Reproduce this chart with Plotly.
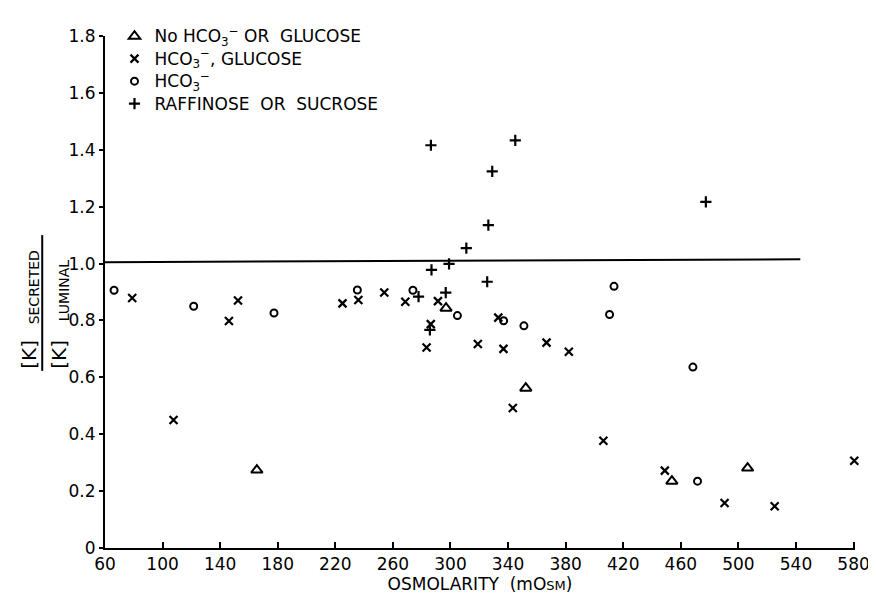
import plotly.graph_objects as go

# ---- data ----
tri_x = [165.5, 296.9, 352.3, 453.8, 506.4]
tri_y = [0.274, 0.843, 0.562, 0.235, 0.281]

xg_x = [78.9, 107.6, 146.1, 152.4, 225.0, 236.0, 254.0, 268.6, 291.3, 286.3, 283.4,
        319.0, 333.2, 336.8, 343.3, 366.7, 382.2, 406.2, 448.9, 490.4, 525.2, 580.5]
xg_y = [0.879, 0.450, 0.798, 0.870, 0.860, 0.872, 0.898, 0.866, 0.868, 0.787, 0.705,
        0.717, 0.810, 0.700, 0.492, 0.722, 0.690, 0.377, 0.272, 0.158, 0.147, 0.307]

circ_x = [66.3, 121.6, 177.4, 235.3, 273.9, 304.8, 336.9, 351.0, 410.5, 413.6, 468.4, 471.6]
circ_y = [0.906, 0.850, 0.826, 0.907, 0.906, 0.817, 0.799, 0.781, 0.821, 0.920, 0.636, 0.235]

plus_x = [286.4, 345.0, 329.0, 326.3, 477.4, 311.0, 286.8, 299.0, 325.5, 277.8, 296.7, 285.7]
plus_y = [1.416, 1.433, 1.324, 1.135, 1.217, 1.054, 0.978, 0.999, 0.936, 0.884, 0.898, 0.767]

ref_x = [60, 543]
ref_y = [1.005, 1.015]

x_ticks = list(range(60, 581, 40))
y_ticks = [0, 0.2, 0.4, 0.6, 0.8, 1.0, 1.2, 1.4, 1.6, 1.8]
y_tick_text = ["0", "0.2", "0.4", "0.6", "0.8", "1.0", "1.2", "1.4", "1.6", "1.8"]

big = "<span style='font-size:17px'>{}</span>"
names = [big.format("No HCO<sub>3</sub><sup>−</sup> OR  GLUCOSE"),
         big.format("HCO<sub>3</sub><sup>−</sup>, GLUCOSE"),
         big.format("HCO<sub>3</sub><sup>−</sup>"),
         big.format("RAFFINOSE  OR  SUCROSE")]

FONT = "DejaVu Sans"
OFF = 8  # page body margin of the browser
X_MAX = 581
W, H = 876 - OFF, 598 - OFF
L, R, T, B = 104.5 - OFF, 21.3, 24 - OFF, 49.5
PW, PH = W - L - R, H - T - B


def px(xp):
    # screen pixel -> paper coordinate
    return (xp - OFF - L) / PW


def py(yp):
    return (H - B - (yp - OFF)) / PH


fig = go.Figure()
fig.add_trace(go.Scatter(x=ref_x, y=ref_y, mode="lines",
                         line=dict(color="black", width=2), showlegend=False,
                         hoverinfo="skip"))
mk = dict(color="black")
fig.add_trace(go.Scatter(x=tri_x, y=tri_y, mode="markers", name=names[0],
                         marker=dict(symbol="triangle-up-open", size=10,
                                     line=dict(color="black", width=2), **mk)))
fig.add_trace(go.Scatter(x=xg_x, y=xg_y, mode="markers", name=names[1],
                         marker=dict(symbol="x-thin", size=8,
                                     line=dict(color="black", width=2.2), **mk)))
fig.add_trace(go.Scatter(x=circ_x, y=circ_y, mode="markers", name=names[2],
                         marker=dict(symbol="circle-open", size=7,
                                     line=dict(color="black", width=2), **mk)))
fig.add_trace(go.Scatter(x=plus_x, y=plus_y, mode="markers", name=names[3],
                         marker=dict(symbol="cross-thin", size=8,
                                     line=dict(color="black", width=2.2), **mk)))
for tr in fig.data:
    tr.cliponaxis = False

annotations = [
    dict(text="[K]", x=px(29), y=py(350), font=dict(size=20)),
    dict(text="SECRETED", x=px(33), y=py(282), font=dict(size=14)),
    dict(text="[K]", x=px(59), y=py(350), font=dict(size=20)),
    dict(text="LUMINAL", x=px(63), y=py(285), font=dict(size=14)),
]
for a in annotations:
    a.update(xref="paper", yref="paper", showarrow=False, textangle=-90,
             xanchor="center", yanchor="middle")
    a["font"].update(family=FONT, color="black")

fig.update_layout(
    width=W, height=H,
    margin=dict(l=L, r=R, t=T, b=B, pad=0),
    plot_bgcolor="white", paper_bgcolor="white",
    font=dict(family=FONT, color="black", size=17),
    annotations=annotations,
    shapes=[dict(type="line", xref="paper", yref="paper",
                 x0=px(41.7), x1=px(41.7), y0=py(228), y1=py(367),
                 line=dict(color="black", width=2))],
    legend=dict(x=px(114), y=py(7.5), xanchor="left", yanchor="top",
                bgcolor="rgba(0,0,0,0)", font=dict(family=FONT, size=15),
                itemwidth=30, tracegroupgap=0),
    xaxis=dict(range=[60, X_MAX], tickvals=x_ticks, ticks="inside", ticklen=6,
               tickwidth=2, tickcolor="black", showline=True, linecolor="black",
               linewidth=2, showgrid=False, zeroline=False,
               tickfont=dict(family=FONT, size=17),
               title=dict(text="OSMOLARITY  (mO<span style='font-size:13px'>SM</span>)",
                          font=dict(family=FONT, size=17), standoff=4)),
    yaxis=dict(range=[0, 1.8], tickvals=y_ticks, ticktext=y_tick_text,
               ticks="outside", ticklen=4, tickwidth=2, tickcolor="black",
               showline=True, linecolor="black", linewidth=2, showgrid=False,
               zeroline=False, tickfont=dict(family=FONT, size=17)),
)
fig.update_xaxes(automargin=False)
fig.update_yaxes(automargin=False)

fig.write_html("out.html")
